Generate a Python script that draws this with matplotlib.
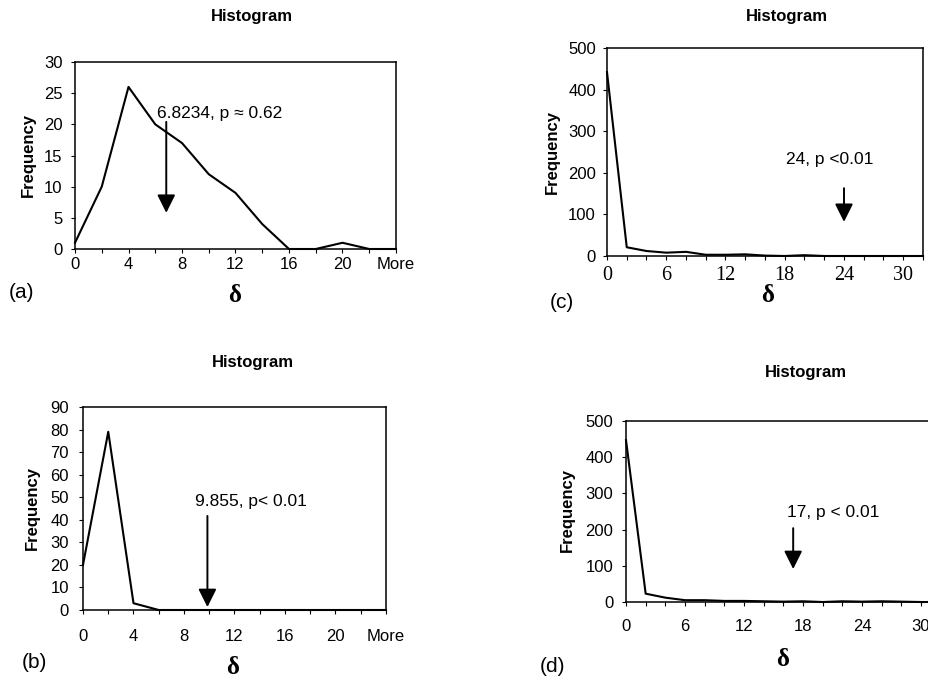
import matplotlib
matplotlib.use("Agg")
import matplotlib.pyplot as plt

plt.rcParams['font.family'] = ['Liberation Sans', 'DejaVu Sans']

# ---------------- data ----------------
bins_ab = ["0", "2", "4", "6", "8", "10", "12", "14", "16", "18", "20", "22", "More"]
freq_a = [1, 10, 26, 20, 17, 12, 9, 4, 0, 0, 1, 0, 0]
freq_b = [20, 79, 3, 0, 0, 0, 0, 0, 0, 0, 0, 0, 0]

bins_cd = [0, 2, 4, 6, 8, 10, 12, 14, 16, 18, 20, 22, 24, 26, 28, 30, 32]
freq_c = [442, 21, 12, 8, 10, 3, 3, 4, 1, 0, 2, 0, 0, 0, 0, 0, 0]
freq_d = [447, 23, 12, 5, 5, 3, 3, 2, 1, 2, 0, 2, 1, 2, 1, 0, 0]

stat_a, label_a = 6.8234, "6.8234, p \u2248 0.62"
stat_b, label_b = 9.855, "9.855, p< 0.01"
stat_c, label_c = 24, "24, p <0.01"
stat_d, label_d = 17, "17, p < 0.01"

yticks_a = [0, 5, 10, 15, 20, 25, 30]
yticks_b = [0, 10, 20, 30, 40, 50, 60, 70, 80, 90]
yticks_cd = [0, 100, 200, 300, 400, 500]
xlabels_cd = [0, 6, 12, 18, 24, 30]

W, H = 929, 680
fig = plt.figure(figsize=(W / 100, H / 100), dpi=100)

TICK_FS = 12
ANN_FS = 12.5


def rect(l, t, r, b):
    return [l / W, 1 - b / H, (r - l) / W, (b - t) / H]


def fx(x):
    return x / W


def fy(y):
    return 1 - y / H


arrow_style = dict(arrowstyle='-|>,head_length=1.1,head_width=0.55',
                   mutation_scale=10, color='black', lw=1.4, shrinkA=0, shrinkB=0)


def style_axes(ax):
    for s in ax.spines.values():
        s.set_linewidth(1.1)
        s.set_color('black')
    ax.tick_params(direction='out', length=3, width=0.8, colors='black', labelsize=TICK_FS)


# ---------- (a) ----------
ax = fig.add_axes(rect(75, 62, 396, 249))
style_axes(ax)
idx = list(range(len(bins_ab)))
ax.plot(idx, freq_a, color='black', lw=1.5, clip_on=False)
ax.set_xlim(0, len(bins_ab) - 1)
ax.set_ylim(0, 30)
ax.set_yticks(yticks_a)
ax.set_xticks(idx)
ax.set_xticklabels([b if i % 2 == 0 else '' for i, b in enumerate(bins_ab)])
ax.tick_params(axis='x', pad=2.5)
ax.tick_params(axis='y', pad=6)
ax.annotate('', xy=(stat_a / 2, 5.8), xytext=(stat_a / 2, 20.4), arrowprops=arrow_style)
ax.text(3.07, 21.8, label_a, fontsize=ANN_FS, ha='left', va='center')

# ---------- (b) ----------
ax = fig.add_axes(rect(83, 407, 386, 610))
style_axes(ax)
ax.plot(idx, freq_b, color='black', lw=1.5, clip_on=False)
ax.set_xlim(0, len(bins_ab) - 1)
ax.set_ylim(0, 90)
ax.set_yticks(yticks_b)
ax.set_xticks(idx)
ax.set_xticklabels([b if i % 2 == 0 else '' for i, b in enumerate(bins_ab)])
ax.tick_params(axis='x', pad=10.5)
ax.tick_params(axis='y', pad=7)
ax.annotate('', xy=(stat_b / 2, 1.3), xytext=(stat_b / 2, 41.7), arrowprops=arrow_style)
ax.text(4.44, 48, label_b, fontsize=ANN_FS, ha='left', va='center')

# ---------- (c) ----------
ax = fig.add_axes(rect(607, 48, 923, 256))
style_axes(ax)
ax.plot(bins_cd, freq_c, color='black', lw=1.5, clip_on=False)
ax.set_xlim(0, 32)
ax.set_ylim(0, 500)
ax.set_yticks(yticks_cd)
ax.set_xticks(bins_cd)
ax.set_xticklabels([str(b) if b in xlabels_cd else '' for b in bins_cd],
                   family=['Liberation Serif', 'DejaVu Serif'], fontsize=14.5)
ax.tick_params(axis='x', pad=4)
ax.tick_params(axis='y', pad=5)
ax.annotate('', xy=(stat_c, 82), xytext=(stat_c, 163), arrowprops=arrow_style)
ax.text(22.6, 231, label_c, fontsize=ANN_FS, ha='center', va='center')

# ---------- (d) ----------
ax = fig.add_axes(rect(626, 421, 940.7, 602))
style_axes(ax)
ax.plot(bins_cd, freq_d, color='black', lw=1.5, clip_on=False)
ax.set_xlim(0, 32)
ax.set_ylim(0, 500)
ax.set_yticks(yticks_cd)
ax.set_xticks(bins_cd)
ax.set_xticklabels([str(b) if b in xlabels_cd else '' for b in bins_cd])
ax.tick_params(axis='x', pad=9.5)
ax.tick_params(axis='y', pad=6)
ax.annotate('', xy=(stat_d, 91), xytext=(stat_d, 204), arrowprops=arrow_style)
ax.text(21.1, 246, label_d, fontsize=ANN_FS, ha='center', va='center')

# ---------- titles, labels ----------
for (x, y) in [(252, 17), (253, 362), (787, 17), (806, 372)]:
    fig.text(fx(x), fy(y), "Histogram", fontsize=12, fontweight='bold', ha='center', va='center')

for (x, y) in [(28, 155), (32, 508), (552, 152), (567, 510)]:
    fig.text(fx(x), fy(y), "Frequency", fontsize=12, fontweight='bold', ha='center', va='center',
             rotation=90)

for (x, y) in [(235, 296), (233, 668), (768, 295), (783, 660)]:
    fig.text(fx(x), fy(y), "\u03b4", fontsize=18, fontweight='bold', ha='center', va='center',
             family=['Liberation Serif', 'DejaVu Serif'])

for (x, y, t) in [(22, 293, "(a)"), (34, 662, "(b)"), (562, 302, "(c)"), (553, 667, "(d)")]:
    fig.text(fx(x), fy(y), t, fontsize=15, ha='center', va='center')

fig.savefig("out.png", dpi=100)
